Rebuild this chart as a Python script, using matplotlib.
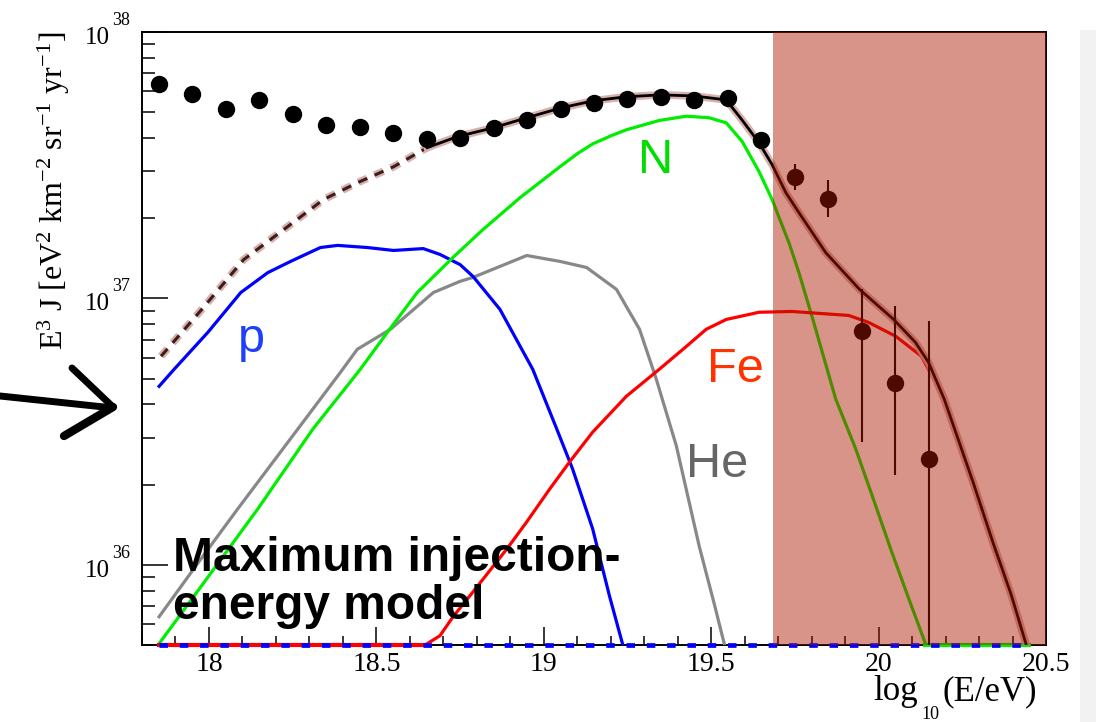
import numpy as np
import matplotlib.pyplot as plt
import matplotlib.patheffects as pe
from matplotlib.lines import Line2D
from matplotlib.patches import Rectangle
from matplotlib.ticker import MultipleLocator, LogLocator, NullFormatter

plt.rcParams['mathtext.fontset'] = 'custom'
plt.rcParams['mathtext.rm'] = 'Liberation Serif'
plt.rcParams['mathtext.it'] = 'Liberation Serif:italic'

SERIF = 'Liberation Serif'
SANS = 'Liberation Sans'

# measured spectrum: log10(E/eV) and log10(E^3 J)
data_x = [17.85, 17.95, 18.05, 18.15, 18.25, 18.35, 18.45, 18.55, 18.65, 18.75,
          18.85, 18.95, 19.05, 19.15, 19.25, 19.35, 19.45, 19.55, 19.65, 19.75,
          19.85, 19.95, 20.05, 20.15]
data_lg = [37.805, 37.768, 37.712, 37.745, 37.693, 37.652, 37.644, 37.622, 37.599, 37.603,
           37.638, 37.670, 37.710, 37.734, 37.749, 37.757, 37.745, 37.753, 37.596, 37.457,
           37.375, 36.876, 36.682, 36.397]
data_lg_lo = [37.800, 37.763, 37.707, 37.740, 37.688, 37.647, 37.639, 37.617, 37.594, 37.598,
              37.633, 37.665, 37.705, 37.729, 37.744, 37.752, 37.740, 37.747, 37.586, 37.408,
              37.307, 36.461, 36.337, 35.500]
data_lg_hi = [37.810, 37.773, 37.717, 37.750, 37.698, 37.657, 37.649, 37.627, 37.604, 37.608,
              37.643, 37.675, 37.715, 37.739, 37.754, 37.762, 37.750, 37.759, 37.606, 37.506,
              37.446, 37.034, 36.970, 36.914]

# model components (log10 E, log10 E^3 J)
p_x = [17.851, 17.896, 17.997, 18.095, 18.176, 18.244, 18.333, 18.384, 18.473, 18.551,
       18.640, 18.690, 18.750, 18.789, 18.869, 18.967, 19.039, 19.086, 19.146, 19.196, 19.235]
p_lg = [36.670, 36.734, 36.873, 37.022, 37.097, 37.139, 37.191, 37.199, 37.191, 37.180,
        37.187, 37.165, 37.127, 37.082, 36.959, 36.734, 36.509, 36.360, 36.135, 35.884, 35.704]

he_x = [17.851, 17.976, 18.086, 18.265, 18.393, 18.443, 18.542, 18.622, 18.670, 18.750,
        18.789, 18.869, 18.949, 19.048, 19.128, 19.217, 19.286, 19.336, 19.396, 19.464,
        19.509, 19.539]
he_lg = [35.805, 36.022, 36.210, 36.509, 36.723, 36.809, 36.884, 36.970, 37.022, 37.064,
         37.079, 37.120, 37.161, 37.139, 37.116, 37.034, 36.884, 36.697, 36.446, 36.071,
         35.854, 35.704]

n_x = [17.851, 17.976, 18.146, 18.310, 18.452, 18.533, 18.622, 18.729, 18.818, 18.929,
       19.048, 19.100, 19.146, 19.200, 19.247, 19.345, 19.426, 19.494, 19.545, 19.592,
       19.643, 19.682, 19.732, 19.762, 19.801, 19.872, 19.932, 19.979, 20.039, 20.098, 20.140]
n_lg = [35.704, 35.918, 36.210, 36.509, 36.734, 36.873, 37.022, 37.154, 37.258, 37.378,
        37.494, 37.543, 37.580, 37.610, 37.633, 37.668, 37.684, 37.678, 37.659, 37.590,
        37.476, 37.371, 37.210, 37.097, 36.933, 36.622, 36.434, 36.266, 36.049, 35.846, 35.704]

fe_x = [18.652, 18.690, 18.729, 18.789, 18.890, 18.949, 19.018, 19.077, 19.146, 19.247,
        19.345, 19.426, 19.485, 19.545, 19.643, 19.741, 19.911, 19.970, 20.051, 20.128,
        20.170, 20.196, 20.238, 20.283, 20.342, 20.396, 20.440]
fe_lg = [35.704, 35.734, 35.805, 35.899, 36.060, 36.161, 36.285, 36.386, 36.498, 36.633,
         36.734, 36.820, 36.884, 36.921, 36.948, 36.951, 36.936, 36.910, 36.858, 36.783,
         36.685, 36.603, 36.453, 36.285, 36.060, 35.873, 35.704]

# sum of components: extrapolated below the fit range, then fitted
tot_ext_x = [17.857, 17.976, 18.104, 18.223, 18.342, 18.443, 18.551, 18.652]
tot_ext_lg = [36.783, 36.955, 37.146, 37.258, 37.371, 37.434, 37.494, 37.566]
tot_x = [18.652, 18.741, 18.848, 18.949, 19.051, 19.149, 19.247, 19.348, 19.449, 19.545,
         19.592, 19.643, 19.682, 19.723, 19.762, 19.842, 19.943, 20.045, 20.110, 20.149,
         20.196, 20.283, 20.342, 20.396, 20.440]
tot_lg = [37.566, 37.607, 37.640, 37.678, 37.715, 37.742, 37.757, 37.764, 37.760, 37.745,
          37.670, 37.584, 37.502, 37.397, 37.322, 37.172, 37.034, 36.921, 36.835, 36.760,
          36.622, 36.307, 36.082, 35.888, 35.704]

# energy range excluded from the fit
excl_lo, excl_hi = 19.685, 20.5

xmin, xmax = 17.8, 20.5
ymin, ymax = 5.0e35, 1.0e38
decades = [36, 37, 38]

W, H = 1096, 722
fig = plt.figure(figsize=(W / 100, H / 100), dpi=100)
ax = fig.add_axes([142 / W, 1 - 645 / H, 904 / W, 613 / H])
ax.set_yscale('log')
ax.set_xlim(xmin, xmax)
ax.set_ylim(ymin, ymax)

def lin(v):
  return 10 ** np.asarray(v)

lw = 2.3
ax.plot(p_x, lin(p_lg), color='#0000ff', lw=lw, zorder=4)
ax.plot(he_x, lin(he_lg), color='#888888', lw=lw, zorder=3)
ax.plot(n_x, lin(n_lg), color='#00ee00', lw=lw, zorder=4)
ax.plot(fe_x, lin(fe_lg), color='#ff0000', lw=lw, zorder=4)

# components that vanish sit on the lower frame
ax.plot([17.85, fe_x[0]], [ymin, ymin], color='#ff0000', lw=3, clip_on=False, zorder=5)
ax.plot([n_x[-1], 20.45], [ymin, ymin], color='#00ee00', lw=3, clip_on=False, zorder=5)
ax.plot([17.85, 20.45], [ymin, ymin], color='#0000ff', lw=3.4, dashes=(1.8, 2.5),
        clip_on=False, zorder=6)

halo = [pe.Stroke(linewidth=5.5, foreground='#d8b0ac'), pe.Normal()]
ax.plot(tot_ext_x, lin(tot_ext_lg), color='#3a1e1e', lw=2.2, dashes=(3.2, 2.6),
        path_effects=halo, zorder=7)
ax.plot(tot_x, lin(tot_lg), color='black', lw=2.0, path_effects=halo, zorder=7)

y = lin(data_lg)
yerr = [y - lin(data_lg_lo), lin(data_lg_hi) - y]
ax.errorbar(data_x, y, yerr=yerr, fmt='o', color='black', ms=11.5, elinewidth=1.5,
            capsize=0, zorder=8)

ax.axvspan(excl_lo, excl_hi, facecolor=(0.68, 0.09, 0.0), alpha=0.46, lw=0, zorder=10)

# axes styling
for s in ax.spines.values():
  s.set_linewidth(1.4)
ax.xaxis.set_major_locator(MultipleLocator(0.5))
ax.xaxis.set_minor_locator(MultipleLocator(0.1))
ax.yaxis.set_major_locator(LogLocator(base=10))
ax.yaxis.set_minor_locator(LogLocator(base=10, subs=np.arange(2, 10)))
ax.yaxis.set_major_formatter(NullFormatter())
ax.yaxis.set_minor_formatter(NullFormatter())
ax.tick_params(axis='both', which='both', direction='in', top=False, right=False, width=1.1)
ax.tick_params(axis='x', which='major', length=13, pad=5, labelsize=20)
ax.tick_params(axis='x', which='minor', length=6.5)
ax.tick_params(axis='y', which='major', length=19)
ax.tick_params(axis='y', which='minor', length=9.5)
ax.set_xticks([18, 18.5, 19, 19.5, 20, 20.5])
ax.set_xticklabels(['18', '18.5', '19', '19.5', '20', '20.5'], fontfamily=SERIF)

for e in decades:
  ax.annotate('10', xy=(0, 10.0 ** e), xycoords=('axes fraction', 'data'),
              xytext=(-23.5, -8.6), textcoords='offset points', ha='right', va='baseline',
              fontsize=18, fontfamily=SERIF)
  ax.annotate(str(e), xy=(0, 10.0 ** e), xycoords=('axes fraction', 'data'),
              xytext=(-21.6, 5.0), textcoords='offset points', ha='left', va='baseline',
              fontsize=13, fontfamily=SERIF)

ax.set_ylabel(r'$\mathregular{E^{3}\ J\ [eV^{2}\ km^{-2}\ sr^{-1}\ yr^{-1}]}$',
              fontsize=23, fontfamily=SERIF, loc='top')
ax.yaxis.set_label_coords(-0.077, 1.0)

# x-axis title, ROOT-like with a deep subscript
fig.text(873 / W, 1 - 700 / H, 'log', fontsize=25, fontfamily=SERIF, va='baseline')
fig.text(921 / W, 1 - 719 / H, '10', fontsize=13, fontfamily=SERIF, va='baseline')
fig.text(943 / W, 1 - 700 / H, '(E/eV)', fontsize=25, fontfamily=SERIF, va='baseline')

# curve labels
ax.text(18.086, 10 ** 36.80, 'p', color='#1f3fff', fontsize=35, fontfamily=SANS, va='baseline')
ax.text(19.28, 10 ** 37.472, 'N', color='#00dd00', fontsize=35, fontfamily=SANS, va='baseline')
ax.text(19.488, 10 ** 36.685, 'Fe', color='#ff3300', fontsize=35, fontfamily=SANS, va='baseline')
ax.text(19.426, 10 ** 36.330, 'He', color='#666666', fontsize=35, fontfamily=SANS, va='baseline')
ax.text(17.893, 10 ** 35.798, 'Maximum injection-\nenergy model', fontsize=34.5,
        fontweight='bold', fontfamily=SANS, va='baseline', linespacing=1.08, zorder=9)

# hand-drawn arrow pointing at the axis
def px(x, y):
  return x / W, 1 - y / H

for (x0, y0), (x1, y1), w in [((0, 396), (104, 407), 5.0),
                              ((72, 368), (113, 407), 5.0),
                              ((64, 436), (113, 407), 6.0)]:
  a, b = px(x0, y0)
  c, d = px(x1, y1)
  fig.add_artist(Line2D([a, c], [b, d], color='black', lw=w, solid_capstyle='round',
                        transform=fig.transFigure))

fig.add_artist(Rectangle(px(1080, 722), 16 / W, 692 / H, transform=fig.transFigure,
                         facecolor='#f2f2f2', edgecolor='none', zorder=-1))

fig.savefig('out.png', dpi=100)
